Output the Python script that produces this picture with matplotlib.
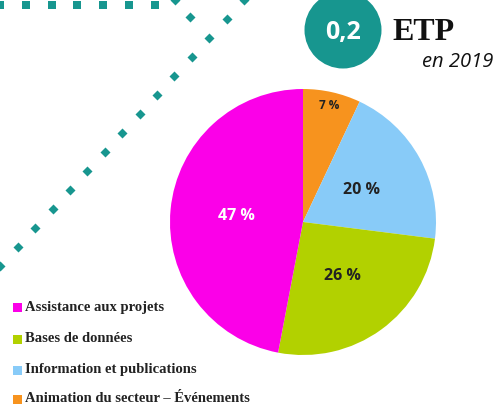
"""Pie chart of ETP allocation in 2019."""

import matplotlib
matplotlib.use("Agg")
import matplotlib.pyplot as plt
import numpy as np
from matplotlib.patches import Circle, Rectangle

# data, in the clockwise order starting at 12 o'clock
categories = [
    "Animation du secteur \u2013 \u00c9v\u00e9nements",
    "Information et publications",
    "Bases de donn\u00e9es",
    "Assistance aux projets",
]
shares = [7, 20, 26, 47]
colors = ["#f7931e", "#88cbf8", "#b2d100", "#fb00e8"]
label_colors = ["#222222", "#222222", "#222222", "#ffffff"]
legend_order = [3, 2, 1, 0]

etp_value = "0,2"
etp_unit = "ETP"
etp_year = "en 2019"

TEAL = "#17968f"
W, H = 502, 416

fig = plt.figure(figsize=(W / 100, H / 100), dpi=100)
fig.patch.set_facecolor("white")

# background layer in pixel coordinates (origin top-left)
bg = fig.add_axes([0, 0, 1, 1])
bg.set_xlim(0, W)
bg.set_ylim(H, 0)
bg.axis("off")

# dotted decoration
hx = np.arange(0, 160, 25.8)
bg.scatter(hx, np.full_like(hx, 5.0), marker="s", s=30, color=TEAL, lw=0)
steps = np.arange(0, 15)
bg.scatter(244 - 17.4 * steps, 0 + 19.0 * steps, marker="D", s=26, color=TEAL, lw=0)
bg.scatter([190, 175], [17, 0], marker="D", s=26, color=TEAL, lw=0)

# ETP badge
bg.add_patch(Circle((343, 30), 38.5, color=TEAL, lw=0))
bg.text(343, 32, etp_value, color="white", fontsize=18, fontweight="bold",
        family="Open Sans", ha="center", va="center")
bg.text(392, 33, etp_unit, color="#111111", fontsize=23, fontweight="bold",
        family="Liberation Serif", ha="left", va="center")
bg.text(493, 62, etp_year, color="#111111", fontsize=14.5, style="italic",
        family="Open Sans", ha="right", va="center")

# legend
rows_y = [307, 339, 370, 399]
for y, idx in zip(rows_y, legend_order):
    bg.add_patch(Rectangle((13, y - 4.5), 9, 9, color=colors[idx], lw=0))
    bg.text(25, y, categories[idx], fontsize=10.5, fontweight="bold",
            family="Liberation Serif", color="#222222", ha="left", va="center")

# pie
cx, cy, r = 303, 222, 133
ax = fig.add_axes([(cx - r) / W, (H - cy - r) / H, 2 * r / W, 2 * r / H])
wedges, _ = ax.pie(shares, colors=colors, startangle=90, counterclock=False,
                   radius=1, wedgeprops=dict(linewidth=0))
ax.set_xlim(-1, 1)
ax.set_ylim(-1, 1)
ax.set_aspect("equal")
ax.axis("off")

for i, w in enumerate(wedges):
    mid = np.deg2rad((w.theta1 + w.theta2) / 2)
    dist = 0.895 if shares[i] < 10 else 0.5
    ax.text(dist * np.cos(mid), dist * np.sin(mid), f"{shares[i]} %",
            color=label_colors[i], fontsize=8.5 if shares[i] < 10 else 11.5,
            fontweight="bold", family="Open Sans", ha="center", va="center")

fig.savefig("out.png", dpi=100, facecolor="white")
